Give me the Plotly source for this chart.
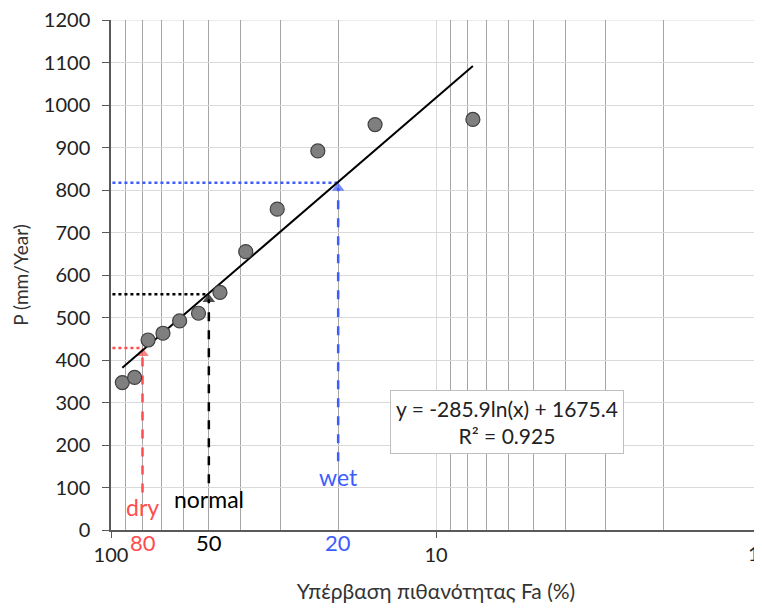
import plotly.graph_objects as go
import math

# ---- data ----
exceed_pct = [92.3, 84.6, 76.9, 69.2, 61.5, 53.8, 46.2, 38.5, 30.8, 23.1, 15.4, 7.7]
precip = [347, 359, 447, 463, 492, 510, 559, 655, 755, 892, 954, 966]

trend_a = -285.9
trend_b = 1675.4
trend_r2 = 0.925

ref_names = ["dry", "normal", "wet"]
ref_x = [80, 50, 20]
ref_y = [428, 555, 817]
ref_arrow_start = [88, 110, 162]
ref_label_y = [55, 74, 125]
ref_colors = ["#ff4d4d", "#000000", "#3d5cff"]

y_ticks = list(range(0, 1201, 100))
x_major = [100, 10, 1]
x_major_text = ["100", "10", ""]
x_edge_label = "1"
x_minor = [90, 80, 70, 60, 50, 40, 30, 20, 9, 8, 7, 6, 5, 4, 3, 2]

fig = go.Figure()

# reference dotted horizontals and dashed vertical arrows
for name, x, y, y0, c in zip(ref_names, ref_x, ref_y, ref_arrow_start, ref_colors):
    fig.add_trace(go.Scatter(
        x=[99, x], y=[y, y], mode="lines",
        line=dict(color=c, width=2.5, dash="dot"),
        hoverinfo="skip", showlegend=False))
    fig.add_trace(go.Scatter(
        x=[x, x], y=[y0, y - 12], mode="lines+markers",
        line=dict(color=c, width=2.5, dash="dash"),
        marker=dict(symbol="triangle-up", size=[0, 11], color=c, line=dict(width=0)),
        hoverinfo="skip", showlegend=False))

# trend line
tx = [exceed_pct[0], exceed_pct[-1]]
ty = [trend_a * math.log(v) + trend_b for v in tx]
fig.add_trace(go.Scatter(x=tx, y=ty, mode="lines",
                         line=dict(color="black", width=2),
                         showlegend=False))

# data points
fig.add_trace(go.Scatter(
    x=exceed_pct, y=precip, mode="markers",
    marker=dict(size=14, color="#7f7f7f", line=dict(color="#404040", width=1.2)),
    showlegend=False))

font_family = "Lato, 'Open Sans', sans-serif"

annotations = []
for name, x, ly, c in zip(ref_names, ref_x, ref_label_y, ref_colors):
    annotations.append(dict(x=math.log10(x), y=ly, text=name, showarrow=False,
                            font=dict(size=23, color=c, family=font_family)))
    annotations.append(dict(x=math.log10(x), y=0, yref="y", text=str(x), showarrow=False,
                            yanchor="middle", yshift=-12,
                            font=dict(size=22, color=c, family=font_family)))

# right-edge "1" tick label kept inside the page
annotations.append(dict(x=math.log10(x_major[-1]), y=0, yref="y", text=x_edge_label,
                        showarrow=False, xanchor="right", yanchor="middle", yshift=-23,
                        xshift=1, font=dict(size=20, color="#222222", family=font_family)))

annotations.append(dict(
    x=math.log10(6.05), y=254,
    text=f"y = {trend_a}ln(x) + {trend_b}<br>R² = {trend_r2}",
    showarrow=False, align="center",
    bgcolor="white", bordercolor="#bfbfbf", borderwidth=1, borderpad=5,
    font=dict(size=21, color="#222222", family=font_family)))

# page body has an 8px margin, so the figure is sized to fit the 762x610 window
fig.update_layout(
    width=754, height=602,
    margin=dict(l=103, r=1, t=12, b=80, autoexpand=False),
    plot_bgcolor="white", paper_bgcolor="white",
    font=dict(family=font_family, color="#333333"),
    annotations=annotations,
    shapes=[dict(type="line", xref="paper", yref="y", x0=0, x1=1, y0=1200, y1=1200,
                 line=dict(color="#d9d9d9", width=1), layer="below")],
)

fig.update_xaxes(
    type="log", range=[2, 0], automargin=False,
    tickmode="array", tickvals=x_major, ticktext=x_major_text,
    tickfont=dict(size=20, color="#222222"), ticklabeloverflow="allow",
    ticks="outside", ticklen=6, tickcolor="#595959",
    showline=True, linecolor="#595959", linewidth=1.5,
    showgrid=True, gridcolor="#d9d9d9", gridwidth=1,
    minor=dict(tickmode="array", tickvals=x_minor, showgrid=True,
               gridcolor="#a6a6a6", gridwidth=1, ticks=""),
    zeroline=False,
    title=dict(text="Υπέρβαση πιθανότητας Fa (%)", font=dict(size=21, color="#333333"),
               standoff=20),
)

fig.update_yaxes(
    range=[0, 1200], tickmode="array", tickvals=y_ticks, automargin=False,
    tickfont=dict(size=20, color="#222222"), ticklabeloverflow="allow",
    ticklabelstandoff=8,
    ticks="outside", ticklen=7, tickcolor="#595959",
    showline=True, linecolor="#595959", linewidth=1.5,
    showgrid=True, gridcolor="#d9d9d9", gridwidth=1,
    zeroline=False,
    title=dict(text="P (mm/Year)", font=dict(size=19, color="#333333"), standoff=10),
)

fig.write_html("out.html")
